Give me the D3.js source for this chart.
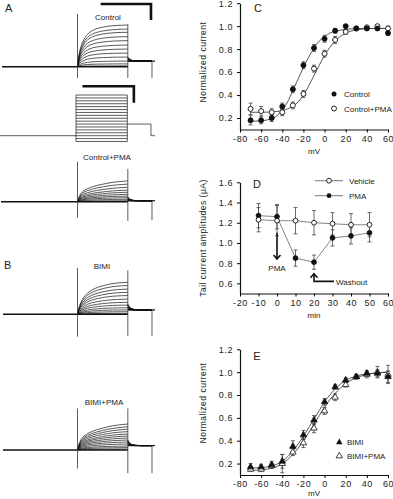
<!DOCTYPE html>
<html>
<head>
<meta charset="utf-8">
<script src="https://cdn.jsdelivr.net/npm/d3@7"></script>
<style>
  body { margin: 0; background: #fff; }
  text { font-family: "Liberation Sans", Arial, sans-serif; fill: #222; }
</style>
</head>
<body>
<svg width="393" height="499"></svg>
<script>
// ---- data ----
// panel C / E : steady-state activation vs test potential
var mvSteps = [-70, -60, -50, -40, -30, -20, -10, 0, 10, 20, 30, 40, 50, 60];
var controlIV = [0.18, 0.18, 0.20, 0.30, 0.45, 0.66, 0.81, 0.89, 0.96, 1.00, 0.98, 0.98, 0.98, 0.94];
var controlIVErr = [0.04, 0.03, 0.03, 0.03, 0.03, 0.03, 0.03, 0.03, 0.02, 0.01, 0.01, 0.01, 0.01, 0.02];
var controlPmaIV = [0.28, 0.26, 0.25, 0.25, 0.31, 0.41, 0.63, 0.76, 0.88, 0.95, 0.98, 0.99, 1.00, 0.98];
var controlPmaIVErr = [0.05, 0.04, 0.03, 0.03, 0.03, 0.03, 0.03, 0.03, 0.03, 0.02, 0.01, 0.01, 0.01, 0.02];
var bimiIV = [0.17, 0.17, 0.19, 0.22, 0.35, 0.45, 0.58, 0.74, 0.87, 0.93, 0.96, 0.99, 0.99, 0.96];
var bimiIVErr = [0.03, 0.02, 0.03, 0.06, 0.05, 0.04, 0.04, 0.03, 0.02, 0.02, 0.02, 0.02, 0.03, 0.05];
var bimiPmaIV = [0.15, 0.15, 0.18, 0.20, 0.30, 0.38, 0.51, 0.66, 0.78, 0.89, 0.96, 0.98, 1.00, 0.98];
var bimiPmaIVErr = [0.02, 0.02, 0.02, 0.08, 0.03, 0.04, 0.04, 0.03, 0.03, 0.02, 0.02, 0.03, 0.05, 0.08];

// fitted curves (read at 5 mV steps)
var fitMv = [-70, -65, -60, -55, -50, -45, -40, -35, -30, -25, -20, -15, -10, -5, 0, 5, 10, 15, 20, 25, 30, 35, 40, 45, 50, 55, 60];
var controlFit = [.171, .173, .176, .182, .195, .22, .27, .34, .44, .54, .64, .73, .81, .87, .91, .94, .955, .965, .972, .976, .978, .98, .98, .98, .98, .98, .98];
var controlPmaFit = [.25, .25, .25, .251, .253, .257, .265, .28, .305, .34, .40, .48, .57, .66, .745, .815, .87, .91, .94, .957, .967, .973, .977, .979, .98, .98, .98];
var bimiFit = [.16, .162, .165, .17, .18, .195, .22, .26, .31, .37, .44, .515, .59, .665, .74, .80, .855, .895, .93, .95, .965, .977, .985, .99, .995, .998, 1.0];
var bimiPmaFit = [.14, .142, .145, .15, .16, .175, .20, .235, .28, .335, .40, .47, .545, .62, .695, .76, .815, .86, .90, .93, .95, .967, .98, .988, .994, .997, 1.0];

// panel D : tail current amplitudes over time
var minutes = [-10, 0, 10, 20, 30, 40, 50];
var vehicleAmp = [1.23, 1.22, 1.22, 1.20, 1.19, 1.18, 1.18];
var vehicleErr = [0.12, 0.15, 0.13, 0.12, 0.11, 0.11, 0.12];
var pmaAmp = [1.27, 1.26, 0.85, 0.81, 1.05, 1.07, 1.10];
var pmaErr = [0.12, 0.12, 0.08, 0.07, 0.08, 0.08, 0.09];

// panels A / B : current families, end-of-pulse amplitude of each sweep (uA)
var controlSweeps = [5.2, 4.7, 4.3, 3.75, 3.25, 2.7, 2.2, 1.7, 1.2, 0.7, 0.35, 0.1];
var controlPmaSweeps = [2.6, 2.2, 1.8, 1.45, 1.18, 0.92, 0.7, 0.5, 0.3, 0.12, 0.02];
var bimiSweeps = [4.0, 3.6, 3.15, 2.75, 2.35, 1.9, 1.5, 1.15, 0.82, 0.55, 0.32, 0.12];
var bimiPmaSweeps = [3.25, 2.9, 2.6, 2.3, 2.0, 1.75, 1.5, 1.25, 1.0, 0.75, 0.5, 0.3, 0.12];

// normalised activation time course during the pulse, and tail decay
var riseTimes = [0, .02, .05, .1, .15, .2, .3, .4, .5, .6, .7, .8, .9, 1];
var fastRise = [0, .2, .4, .58, .7, .78, .87, .92, .95, .97, .985, .993, .998, 1];
var slowRise = [0, .15, .32, .48, .57, .63, .72, .79, .84, .89, .93, .96, .98, 1];
var midRise = [0, .15, .3, .47, .58, .66, .77, .84, .89, .93, .96, .98, .99, 1];
var tailTimes = [0, .05, .1, .2, .3, .45, .6, 1];
var tailDecay = [1, .6, .38, .15, .06, .02, 0, 0];

// voltage protocol (mV)
var stepVoltages = [-100, -90, -80, -70, -60, -50, -40, -30, -20, -10, 0, 10, 20, 30, 40, 50, 60];
var holdingMv = -80;
var tailMv = -40;

var svg = d3.select("svg");
var font = '"Liberation Sans", Arial, sans-serif';

// ---------- panels A and B: current traces ----------
var tx = d3.scaleLinear().domain([0, 3]).range([2, 153]);
var pulseOn = 1.5, pulseOff = 2.5, tailEnd = 2.98;

function drawFamily(cfg) {
  var iy = d3.scaleLinear().domain([0, 1]).range([cfg.base, cfg.base - 8]);
  var g = svg.append("g");
  var maxAmp = d3.max(cfg.sweeps);
  var riseLine = d3.line().x(function (d) { return tx(d[0]); }).y(function (d) { return iy(d[1]); }).curve(d3.curveMonotoneX);

  cfg.sweeps.forEach(function (amp) {
    var pts = riseTimes.map(function (t, i) { return [pulseOn + t * (pulseOff - pulseOn), amp * cfg.rise[i]]; });
    g.append("path").attr("d", riseLine(pts))
      .attr("fill", "none").attr("stroke", "#111").attr("stroke-width", 0.7);
    var start = cfg.tailLevel + (cfg.tailPeak - cfg.tailLevel) * amp / maxAmp;
    var tpts = tailTimes.map(function (t, i) {
      return [pulseOff + t * (tailEnd - pulseOff), cfg.tailLevel + (start - cfg.tailLevel) * tailDecay[i]];
    });
    g.append("path").attr("d", riseLine(tpts))
      .attr("fill", "none").attr("stroke", "#111").attr("stroke-width", 0.7);
  });

  // holding baseline and end of pulse baseline
  g.append("line").attr("x1", tx(cfg.start)).attr("x2", tx(pulseOn))
    .attr("y1", iy(0)).attr("y2", iy(0)).attr("stroke", "#111").attr("stroke-width", 1.6);
  g.append("line").attr("x1", tx(pulseOn)).attr("x2", tx(pulseOff))
    .attr("y1", iy(0)).attr("y2", iy(0)).attr("stroke", "#111").attr("stroke-width", 1.6);
  g.append("line").attr("x1", tx(pulseOff)).attr("x2", tx(3.04))
    .attr("y1", iy(cfg.tailLevel)).attr("y2", iy(cfg.tailLevel)).attr("stroke", "#111").attr("stroke-width", 1.2);

  // capacitive transients
  [[pulseOn, cfg.on], [pulseOff, cfg.off], [tailEnd, cfg.end]].forEach(function (s) {
    g.append("line").attr("x1", tx(s[0])).attr("x2", tx(s[0]))
      .attr("y1", iy(s[1][0])).attr("y2", iy(s[1][1]))
      .attr("stroke", "#333").attr("stroke-width", 0.8);
  });
}

drawFamily({ base: 66.7, sweeps: controlSweeps, rise: fastRise, tailLevel: 0.7, tailPeak: 1.2, start: 0, on: [6.6, -1.4], off: [5.3, -1.4], end: [0.7, -1.4] });
drawFamily({ base: 201.7, sweeps: controlPmaSweeps, rise: slowRise, tailLevel: 0.12, tailPeak: 0.6, start: -0.02, on: [5.0, -2.0], off: [4.1, -2.4], end: [0.12, -2.3] });
drawFamily({ base: 314.3, sweeps: bimiSweeps, rise: midRise, tailLevel: 0.55, tailPeak: 1.3, start: 0.02, on: [5.8, -2.8], off: [5.5, -2.7], end: [0.55, -2.7] });
drawFamily({ base: 450, sweeps: bimiPmaSweeps, rise: slowRise, tailLevel: 0.55, tailPeak: 1.25, start: 0.02, on: [5.2, -2.3], off: [5.2, -2.9], end: [0.55, -2.9] });

// voltage protocol
var vy = d3.scaleLinear().domain([-100, 60]).range([141.5, 95]);
var vp = svg.append("g").attr("stroke", "#333").attr("stroke-width", 0.8);
stepVoltages.forEach(function (v) {
  vp.append("line").attr("x1", tx(pulseOn) - 1.5).attr("x2", tx(pulseOff) - 0.5)
    .attr("y1", vy(v)).attr("y2", vy(v));
});
vp.append("line").attr("x1", tx(pulseOn) - 1.5).attr("x2", tx(pulseOn) - 1.5).attr("y1", vy(-100)).attr("y2", vy(60));
vp.append("line").attr("x1", tx(pulseOff) - 0.5).attr("x2", tx(pulseOff) - 0.5).attr("y1", vy(-100)).attr("y2", vy(60));
vp.append("path").attr("fill", "none")
  .attr("d", d3.line()([[0, vy(holdingMv)], [tx(pulseOn) - 1.5, vy(holdingMv)]]));
vp.append("path").attr("fill", "none")
  .attr("d", d3.line()([[tx(pulseOff) - 0.5, vy(tailMv)], [tx(2.96), vy(tailMv)], [tx(2.96), vy(holdingMv)], [tx(3.04), vy(holdingMv)]]));

// scale bars
function scaleBar(x0, x1, y0, y1) {
  svg.append("path").attr("fill", "none").attr("stroke", "#111").attr("stroke-width", 2.6)
    .attr("d", d3.line()([[x0, y0], [x1, y0], [x1, y1]]));
}
scaleBar(tx(1.96), tx(2.96), 4, 20);
scaleBar(tx(1.6), tx(2.62), 86.3, 102.7);

// panel labels / trace labels
function label(x, y, t, size, anchor) {
  svg.append("text").attr("x", x).attr("y", y).attr("font-size", size)
    .attr("text-anchor", anchor || "middle").text(t);
}
label(5, 12, "A", 11, "start");
label(4, 269, "B", 11, "start");
label(108, 19.5, "Control", 8);
label(107, 159.5, "Control+PMA", 8);
label(102, 268.5, "BIMI", 8);
label(104, 404.5, "BIMI+PMA", 8);

// ---------- panels C, D, E ----------
function axes(g, x, y, xTicks, yTicks, yFmt, xLabel, yLabel, yLabelY, labelYOff) {
  var yAxis = g.append("g").attr("transform", "translate(" + x.range()[0] + ",0)")
    .call(d3.axisLeft(y).tickValues(yTicks).tickSize(3).tickSizeOuter(0).tickPadding(4).tickFormat(yFmt));
  var xAxis = g.append("g").attr("transform", "translate(0," + y.range()[0] + ")")
    .call(d3.axisBottom(x).tickValues(xTicks).tickSize(3).tickSizeOuter(0).tickPadding(3).tickFormat(function (d) { return d; }));
  [yAxis, xAxis].forEach(function (a) {
    a.attr("font-family", font).attr("font-size", 9);
    a.selectAll("text").style("letter-spacing", "0.6px").attr("fill", "#222");
    a.select(".domain").attr("stroke", "#111").attr("stroke-width", 1.2);
  });
  g.append("text").attr("x", d3.mean(x.range())).attr("y", y.range()[0] + labelYOff)
    .attr("text-anchor", "middle").attr("font-size", 8).text(xLabel);
  g.append("text").attr("transform", "translate(206," + yLabelY + ") rotate(-90)")
    .attr("text-anchor", "middle").attr("font-size", 8.5).style("letter-spacing", "0.5px").text(yLabel);
}

function errorBars(g, x, y, xs, ys, es, cap) {
  xs.forEach(function (xv, i) {
    var lo = y(ys[i] - es[i]), hi = y(ys[i] + es[i]), cx = x(xv);
    g.append("path").attr("fill", "none").attr("stroke", "#444").attr("stroke-width", 0.8)
      .attr("d", "M" + cx + "," + lo + "V" + hi +
        "M" + (cx - cap) + "," + lo + "H" + (cx + cap) +
        "M" + (cx - cap) + "," + hi + "H" + (cx + cap));
  });
}

function fitCurve(g, x, y, xs, ys) {
  g.append("path").datum(xs.map(function (v, i) { return [v, ys[i]]; }))
    .attr("fill", "none").attr("stroke", "#444").attr("stroke-width", 0.9)
    .attr("d", d3.line().x(function (d) { return x(d[0]); }).y(function (d) { return y(d[1]); }).curve(d3.curveMonotoneX));
}

function circles(g, x, y, xs, ys, filled) {
  g.selectAll(null).data(xs).enter().append("circle")
    .attr("cx", function (d) { return x(d); })
    .attr("cy", function (d, i) { return y(ys[i]); })
    .attr("r", 2.5)
    .attr("fill", filled ? "#111" : "#fff").attr("stroke", "#111").attr("stroke-width", 0.9);
}

function triangles(g, x, y, xs, ys, filled) {
  g.selectAll(null).data(xs).enter().append("path")
    .attr("transform", function (d, i) { return "translate(" + x(d) + "," + y(ys[i]) + ")"; })
    .attr("d", d3.symbol().type(d3.symbolTriangle).size(18))
    .attr("fill", filled ? "#111" : "#fff").attr("stroke", "#111").attr("stroke-width", 0.8);
}

var fmt1 = d3.format(".1f");
var ivTicks = [0.2, 0.4, 0.6, 0.8, 1.0, 1.2];
var mvTicks = [-80, -60, -40, -20, 0, 20, 40, 60];

// C
var xC = d3.scaleLinear().domain([-80, 60]).range([240, 388]);
var yC = d3.scaleLinear().domain([0.1, 1.2]).range([129.5, 3.2]);
var gC = svg.append("g");
axes(gC, xC, yC, mvTicks, ivTicks, fmt1, "mV", "Normalized current", 62, 24);
fitCurve(gC, xC, yC, fitMv, controlFit);
fitCurve(gC, xC, yC, fitMv, controlPmaFit);
errorBars(gC, xC, yC, mvSteps, controlPmaIV, controlPmaIVErr, 2);
errorBars(gC, xC, yC, mvSteps, controlIV, controlIVErr, 2);
circles(gC, xC, yC, mvSteps, controlPmaIV, false);
circles(gC, xC, yC, mvSteps, controlIV, true);
label(258, 12, "C", 11);
gC.append("circle").attr("cx", 334).attr("cy", 94).attr("r", 2.5).attr("fill", "#111");
gC.append("circle").attr("cx", 334).attr("cy", 108.5).attr("r", 2.5).attr("fill", "#fff").attr("stroke", "#111").attr("stroke-width", 0.9);
label(344, 97, "Control", 8, "start");
label(344, 111.5, "Control+PMA", 8, "start");

// D
var xD = d3.scaleLinear().domain([-20, 60]).range([240, 388]);
var yD = d3.scaleLinear().domain([0.5, 1.6]).range([293.5, 182.3]);
var gD = svg.append("g");
axes(gD, xD, yD, d3.range(-20, 61, 10), [0.6, 0.8, 1.0, 1.2, 1.4, 1.6], fmt1, "min", "Tail current amplitudes (\u03bcA)", 238, 24);
var lineD = d3.line().x(function (d, i) { return xD(minutes[i]); }).y(function (d) { return yD(d); });
gD.append("path").attr("d", lineD(vehicleAmp)).attr("fill", "none").attr("stroke", "#777").attr("stroke-width", 0.9);
gD.append("path").attr("d", lineD(pmaAmp)).attr("fill", "none").attr("stroke", "#777").attr("stroke-width", 0.9);
errorBars(gD, xD, yD, minutes, vehicleAmp, vehicleErr, 2);
errorBars(gD, xD, yD, minutes, pmaAmp, pmaErr, 2);
circles(gD, xD, yD, minutes, pmaAmp, true);
circles(gD, xD, yD, minutes, vehicleAmp, false);
gD.selectAll("circle").attr("r", 2.4);
label(257, 188, "D", 11);
// legend
gD.append("line").attr("x1", 315).attr("x2", 343).attr("y1", 180.7).attr("y2", 180.7).attr("stroke", "#777");
gD.append("line").attr("x1", 315).attr("x2", 343).attr("y1", 195.7).attr("y2", 195.7).attr("stroke", "#777");
gD.append("circle").attr("cx", 329).attr("cy", 180.7).attr("r", 2.4).attr("fill", "#fff").attr("stroke", "#111").attr("stroke-width", 0.9);
gD.append("circle").attr("cx", 329).attr("cy", 195.7).attr("r", 2.4).attr("fill", "#111");
label(349, 183.5, "Vehicle", 8, "start");
label(349, 198.5, "PMA", 8, "start");
// annotations
var arrowPath = d3.line();
gD.append("path").attr("fill", "none").attr("stroke", "#111").attr("stroke-width", 1.6)
  .attr("d", arrowPath([[xD(0), yD(1.10)], [xD(0), yD(0.84)]]) + arrowPath([[xD(0) - 3.5, yD(0.88)], [xD(0), yD(0.84)], [xD(0) + 3.5, yD(0.88)]]));
label(xD(0), 271, "PMA", 8);
gD.append("path").attr("fill", "none").attr("stroke", "#111").attr("stroke-width", 1.6)
  .attr("d", arrowPath([[xD(20) - 3.5, yD(0.655)], [xD(20), yD(0.695)], [xD(20) + 3.5, yD(0.655)]]) +
    arrowPath([[xD(20), yD(0.695)], [xD(20), yD(0.62)], [334, yD(0.62)]]));
label(336, 284.5, "Washout", 8, "start");

// E
var xE = d3.scaleLinear().domain([-80, 60]).range([240, 388]);
var yE = d3.scaleLinear().domain([0.1, 1.2]).range([475, 349.3]);
var gE = svg.append("g");
axes(gE, xE, yE, mvTicks, ivTicks, fmt1, "mV", "Normalized current", 403, 21);
fitCurve(gE, xE, yE, fitMv, bimiFit);
fitCurve(gE, xE, yE, fitMv, bimiPmaFit);
errorBars(gE, xE, yE, mvSteps, bimiPmaIV, bimiPmaIVErr, 2);
errorBars(gE, xE, yE, mvSteps, bimiIV, bimiIVErr, 2);
triangles(gE, xE, yE, mvSteps, bimiPmaIV, false);
triangles(gE, xE, yE, mvSteps, bimiIV, true);
label(257, 360, "E", 11);
gE.append("path").attr("transform", "translate(339.3,442.3)").attr("d", d3.symbol().type(d3.symbolTriangle).size(18)).attr("fill", "#111");
gE.append("path").attr("transform", "translate(339.3,456)").attr("d", d3.symbol().type(d3.symbolTriangle).size(18)).attr("fill", "#fff").attr("stroke", "#111").attr("stroke-width", 0.8);
label(347, 445, "BIMI", 8, "start");
label(347, 459, "BIMI+PMA", 8, "start");
</script>
</body>
</html>
